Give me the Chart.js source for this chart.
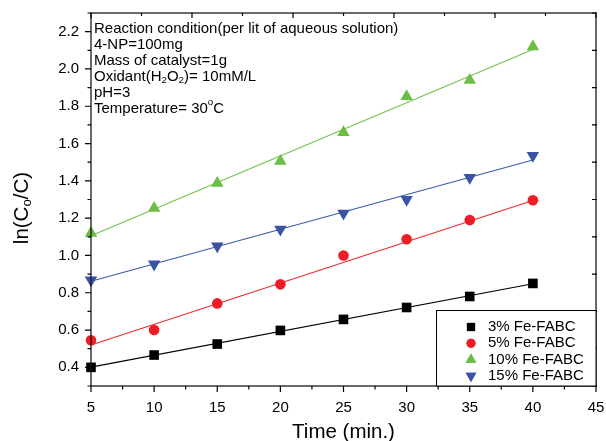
<!DOCTYPE html>
<html><head><meta charset="utf-8">
<script src="https://cdn.jsdelivr.net/npm/chart.js@4.4.0/dist/chart.umd.min.js"></script>
<style>html,body{margin:0;padding:0;background:#fff;overflow:hidden}</style>
</head><body>
<canvas id="c" width="606" height="441"></canvas>
<script>
// ---- data ----
const times = [5, 10, 15, 20, 25, 30, 35, 40];
const seriesNames = ['3% Fe-FABC', '5% Fe-FABC', '10% Fe-FABC', '15% Fe-FABC'];
const fe3  = [0.400, 0.466, 0.525, 0.598, 0.657, 0.721, 0.780, 0.850];
const fe5  = [0.545, 0.600, 0.743, 0.845, 1.000, 1.087, 1.190, 1.296];
const fe10 = [1.120, 1.254, 1.388, 1.505, 1.660, 1.853, 1.940, 2.120];
const fe15 = [0.868, 0.953, 1.050, 1.140, 1.226, 1.300, 1.418, 1.536];
const fitTimes = [5, 40];
const fit3  = [0.401, 0.848];
const fit5  = [0.520, 1.295];
const fit10 = [1.105, 2.104];
const fit15 = [0.862, 1.512];
const xTickValues = [5, 10, 15, 20, 25, 30, 35, 40, 45];
const xTickLabels = ['5', '10', '15', '20', '25', '30', '35', '40', '45'];
const xMinorValues = [7.5, 12.5, 17.5, 22.5, 27.5, 32.5, 37.5, 42.5];
const topTickValues = [5, 9, 13, 17, 21, 25, 29, 33, 37, 41, 45];
const yTickValues = [0.4, 0.6, 0.8, 1.0, 1.2, 1.4, 1.6, 1.8, 2.0, 2.2];
const yTickLabels = ['0.4', '0.6', '0.8', '1.0', '1.2', '1.4', '1.6', '1.8', '2.0', '2.2'];
const yMinorValues = [0.3, 0.5, 0.7, 0.9, 1.1, 1.3, 1.5, 1.7, 1.9, 2.1, 2.3];
const xTitle = 'Time (min.)';
const yTitleParts = [['ln(C', 'n'], ['o', 'sub'], ['/C)', 'n']];
const noteLines = [
  [['Reaction condition(per lit of aqueous solution)', 'n']],
  [['4-NP=100mg', 'n']],
  [['Mass of catalyst=1g', 'n']],
  [['Oxidant(H', 'n'], ['2', 'sub'], ['O', 'n'], ['2', 'sub'], [')= 10mM/L', 'n']],
  [['pH=3', 'n']],
  [['Temperature= 30', 'n'], ['o', 'sup'], ['C', 'n']]
];

// ---- styles ----
const FONT = "'Liberation Sans', Arial, sans-serif";
const markerColors = ['#000000', '#ee1c25', '#6cbd45', '#3a53a4'];
const lineColors = ['#000000', '#ee2a30', '#74c24a', '#3d5aa8'];
const markerStyles = ['rect', 'circle', 'triangle', 'triangle'];
const markerRot = [0, 0, 0, 180];
const markerRadius = [6.8, 5.3, 7.2, 7.2];
const seriesData = [fe3, fe5, fe10, fe15];
const fitData = [fit3, fit5, fit10, fit15];

const datasets = [];
for (let i = 0; i < 4; i++) {
  datasets.push({
    type: 'line', label: seriesNames[i] + ' fit',
    data: fitTimes.map((t, k) => ({x: t, y: fitData[i][k]})),
    borderColor: lineColors[i], borderWidth: 1.1, pointRadius: 0, fill: false,
    clip: false, order: 2
  });
}
for (let i = 0; i < 4; i++) {
  datasets.push({
    type: 'scatter', label: seriesNames[i],
    data: times.map((t, k) => ({x: t, y: seriesData[i][k]})),
    backgroundColor: markerColors[i], borderColor: markerColors[i], borderWidth: 0,
    pointStyle: markerStyles[i], pointRotation: markerRot[i], pointRadius: markerRadius[i],
    pointHoverRadius: markerRadius[i], clip: false, order: 1
  });
}

function drawRich(ctx, parts, x, y, size) {
  let cx = x;
  for (const [txt, kind] of parts) {
    let fs = size, dy = 0;
    if (kind === 'sub') { fs = size * 0.65; dy = size * 0.28; }
    if (kind === 'sup') { fs = size * 0.65; dy = -size * 0.38; }
    ctx.font = fs + 'px ' + FONT;
    ctx.fillText(txt, cx, y + dy);
    cx += ctx.measureText(txt).width;
  }
  return cx - x;
}
function richWidth(ctx, parts, size) {
  let w = 0;
  for (const [txt, kind] of parts) {
    const fs = kind === 'n' ? size : size * 0.65;
    ctx.font = fs + 'px ' + FONT;
    w += ctx.measureText(txt).width;
  }
  return w;
}

const decor = {
  id: 'decor',
  afterDraw(chart) {
    const ctx = chart.ctx, a = chart.chartArea;
    const xs = chart.scales.x, ys = chart.scales.y;
    ctx.save();
    // frame
    ctx.strokeStyle = '#1a1a1a'; ctx.lineWidth = 1.3;
    ctx.strokeRect(a.left, a.top, a.right - a.left, a.bottom - a.top);
    ctx.lineWidth = 1.2; ctx.strokeStyle = '#000';
    ctx.beginPath();
    for (const v of xTickValues) { const p = xs.getPixelForValue(v);
      ctx.moveTo(p, a.bottom); ctx.lineTo(p, a.bottom + 6); }
    for (const v of xMinorValues) { const p = xs.getPixelForValue(v);
      ctx.moveTo(p, a.bottom); ctx.lineTo(p, a.bottom + 3.5); }
    topTickValues.forEach((v, i) => { const p = xs.getPixelForValue(v);
      ctx.moveTo(p, a.top); ctx.lineTo(p, a.top + (i % 2 === 0 ? 5 : 3)); });
    for (const v of yTickValues) { const p = ys.getPixelForValue(v);
      ctx.moveTo(a.left, p); ctx.lineTo(a.left - 6, p); }
    for (const v of yMinorValues) { const p = ys.getPixelForValue(v);
      ctx.moveTo(a.left, p); ctx.lineTo(a.left - 3.5, p);
      ctx.moveTo(a.right + 1, p); ctx.lineTo(a.right - 4, p); }
    ctx.stroke();

    ctx.fillStyle = '#000';
    // axis titles
    ctx.textBaseline = 'middle'; ctx.textAlign = 'center';
    ctx.font = '20.5px ' + FONT;
    ctx.fillText(xTitle, (a.left + a.right) / 2, 432);
    ctx.save();
    ctx.translate(22, 208); ctx.rotate(-Math.PI / 2);
    ctx.textAlign = 'left';
    const tw = richWidth(ctx, yTitleParts, 20.5);
    drawRich(ctx, yTitleParts, -tw / 2, 0, 20.5);
    ctx.restore();

    // notes
    ctx.textAlign = 'left'; ctx.textBaseline = 'middle';
    noteLines.forEach((ln, i) => drawRich(ctx, ln, a.left + 3, 28.5 + i * 16, 15));

    // legend
    const lx = 436.5, ly = 310.5, lw = a.right - lx, lh = a.bottom - ly;
    ctx.fillStyle = '#fff'; ctx.fillRect(lx, ly, lw, lh);
    ctx.strokeStyle = '#000'; ctx.lineWidth = 1; ctx.strokeRect(lx, ly, lw, lh);
    ctx.font = '15px ' + FONT; ctx.textBaseline = 'middle';
    seriesNames.forEach((nm, i) => {
      const yy = 327 + i * 16.3;
      ctx.fillStyle = markerColors[i]; ctx.strokeStyle = markerColors[i];
      Chart.helpers.drawPoint(ctx, {pointStyle: markerStyles[i], rotation: markerRot[i],
        radius: markerRadius[i] * 0.85, borderWidth: 0}, 471, yy);
      ctx.fill();
      ctx.fillStyle = '#000';
      ctx.fillText(nm, 488, yy);
    });
    ctx.restore();
  }
};

Chart.defaults.font.family = FONT;
Chart.defaults.color = '#000';
new Chart(document.getElementById('c'), {
  data: {datasets},
  options: {
    responsive: false, animation: false,
    layout: {padding: {top: 13, right: 10, left: 0, bottom: 0}},
    plugins: {legend: {display: false}, tooltip: {enabled: false}},
    scales: {
      x: {type: 'linear', min: 5, max: 45,
        afterFit: s => { s.height = 55; s.paddingLeft = 0; s.paddingRight = 0; },
        afterBuildTicks: s => { s.ticks = xTickValues.map(v => ({value: v})); },
        grid: {display: false, drawTicks: false, tickLength: 0}, border: {display: false},
        ticks: {font: {size: 15}, padding: 13, maxRotation: 0, autoSkip: false,
          callback: (v, i) => xTickLabels[i]}},
      y: {type: 'linear', min: 0.3, max: 2.3,
        afterFit: s => { s.width = 91; s.paddingTop = 0; s.paddingBottom = 0; },
        afterBuildTicks: s => { s.ticks = yTickValues.map(v => ({value: v})); },
        grid: {display: false, drawTicks: false, tickLength: 0}, border: {display: false},
        ticks: {font: {size: 15}, padding: 12, autoSkip: false,
          callback: (v, i) => yTickLabels[i]}}
    }
  },
  plugins: [decor]
});
</script>
</body></html>
